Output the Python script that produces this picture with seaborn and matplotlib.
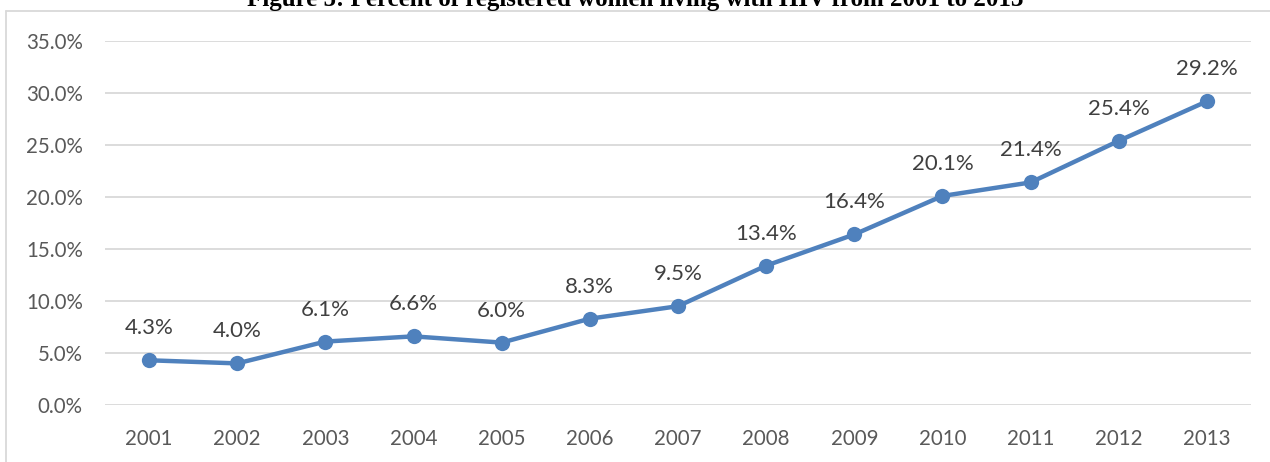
import matplotlib
matplotlib.use("Agg")
import matplotlib.pyplot as plt
from matplotlib.lines import Line2D
import seaborn as sns
import pandas as pd

years = [2001, 2002, 2003, 2004, 2005, 2006, 2007, 2008, 2009, 2010, 2011, 2012, 2013]
percent = [4.3, 4.0, 6.1, 6.6, 6.0, 8.3, 9.5, 13.4, 16.4, 20.1, 21.4, 25.4, 29.2]
title = "Figure 5: Percent of registered women living with HIV from 2001 to 2013"

sns.set_theme(style="white")
plt.rcParams["font.family"] = ["Lato", "DejaVu Sans"]

df = pd.DataFrame({"year": years, "percent": percent})

fig = plt.figure(figsize=(12.7, 4.62), dpi=100)
ax = fig.add_axes([105 / 1270, 1 - 405 / 462, (1251 - 105) / 1270, (405 - 41) / 462])

line_color = "#4F81BD"
text_color = "#595959"
grid_color = "#D9D9D9"

sns.lineplot(data=df, x="year", y="percent", ax=ax, color=line_color,
             linewidth=3.2, marker="o", markersize=11, markeredgewidth=0)

for x, y in zip(years, percent):
    ax.annotate(f"{y:.1f}%", (x, y), xytext=(0, 23), textcoords="offset points",
                ha="center", va="center", fontsize=16, color="#404040")

ax.set_xlim(years[0] - 0.5, years[-1] + 0.5)
ax.set_ylim(0, 35)
ax.set_xticks(years)
ax.set_xticklabels([str(y) for y in years])
ax.set_yticks(range(0, 36, 5))
ax.set_yticklabels([f"{v:.1f}%" for v in range(0, 36, 5)])
ax.set_xlabel("")
ax.set_ylabel("")
ax.tick_params(axis="both", length=0, labelsize=14.8, labelcolor=text_color)
ax.tick_params(axis="y", pad=16)
ax.tick_params(axis="x", pad=17)
ax.grid(axis="y", color=grid_color, linewidth=1.3)
ax.grid(axis="x", visible=False)
ax.set_axisbelow(True)
for s in ax.spines.values():
    s.set_visible(False)

# chart frame (top and left edges)
fx0, fy0 = 6 / 1270, 1 - 11 / 462
fig.add_artist(Line2D([fx0, 1.0], [fy0, fy0], color=grid_color, linewidth=1.3,
                      transform=fig.transFigure))
fig.add_artist(Line2D([fx0, fx0], [0, fy0], color=grid_color, linewidth=1.3,
                      transform=fig.transFigure))

# caption above the frame
fig.text(0.5, 1 - 6 / 462, title, ha="center", va="baseline",
         fontsize=18, fontweight="bold", family=["Liberation Serif", "DejaVu Serif"],
         color="black")

fig.savefig("out.png", dpi=100)
